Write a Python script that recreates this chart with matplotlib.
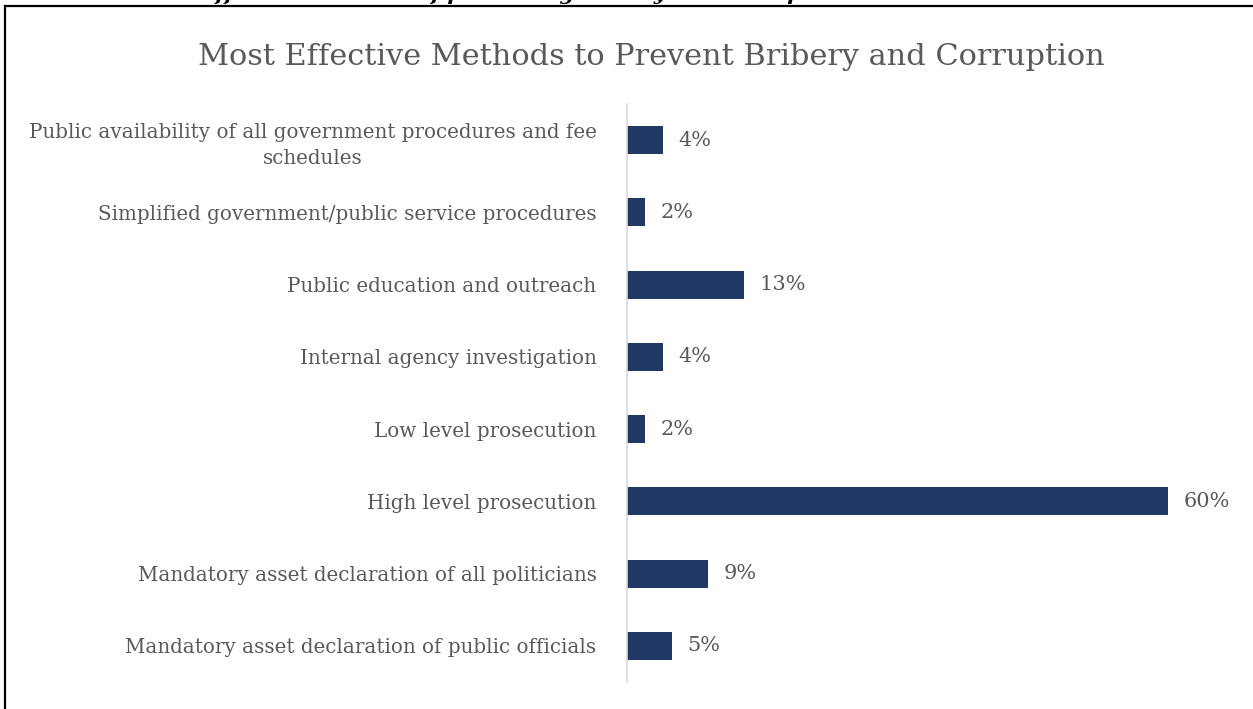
import matplotlib
matplotlib.use('Agg')
import matplotlib.pyplot as plt
from matplotlib.lines import Line2D

categories = [
    'Public availability of all government procedures and fee\nschedules',
    'Simplified government/public service procedures',
    'Public education and outreach',
    'Internal agency investigation',
    'Low level prosecution',
    'High level prosecution',
    'Mandatory asset declaration of all politicians',
    'Mandatory asset declaration of public officials',
]
shares = [4, 2, 13, 4, 2, 60, 9, 5]

title = 'Most Effective Methods to Prevent Bribery and Corruption'
caption = 'Exhibit 24: Most effective methods of preventing bribery and corruption'

BAR = '#1F3864'
TEXT = '#595959'
W, H = 1253, 709

plt.rcParams['font.family'] = 'DejaVu Serif'

fig = plt.figure(figsize=(W / 100, H / 100), dpi=100)
ax = fig.add_axes([627 / W, (H - 682) / H, 613 / W, 578 / H])

ypos = list(range(len(categories)))
ax.barh(ypos, shares, height=0.39, color=BAR)
ax.set_xlim(0, 68)
ax.set_ylim(len(categories) - 0.5, -0.5)

for y, v in zip(ypos, shares):
    ax.annotate(f'{v}%', (v, y), xytext=(11, 0), textcoords='offset points',
                va='center', ha='left', fontsize=15, color=TEXT)

ax.set_yticks(ypos)
ax.set_yticklabels(categories, fontsize=14.3, color=TEXT, ha='right',
                   multialignment='center', linespacing=1.45)
ax.tick_params(axis='y', length=0, pad=22)
ax.set_xticks([])

for side in ('top', 'right', 'bottom'):
    ax.spines[side].set_visible(False)
ax.spines['left'].set_color('#D9D9D9')
ax.spines['left'].set_linewidth(1.2)

fig.text(651 / W, 1 - 57 / H, title, ha='center', va='center',
         fontsize=21.9, color=TEXT)

# caption above the chart box, mostly off the top of the page
fig.text(2 / W, 1 + 6 / H, caption, ha='left', va='center', fontsize=15,
         style='italic', weight='bold', color='black')

# chart box frame (left and top edges fall inside the page)
fig.add_artist(Line2D([5 / W, 5 / W], [0, 1 - 6 / H], color='black', lw=1.6,
                      transform=fig.transFigure))
fig.add_artist(Line2D([5 / W, 1], [1 - 6 / H, 1 - 6 / H], color='black',
                      lw=1.6, transform=fig.transFigure))

fig.savefig('out.png', dpi=100)
